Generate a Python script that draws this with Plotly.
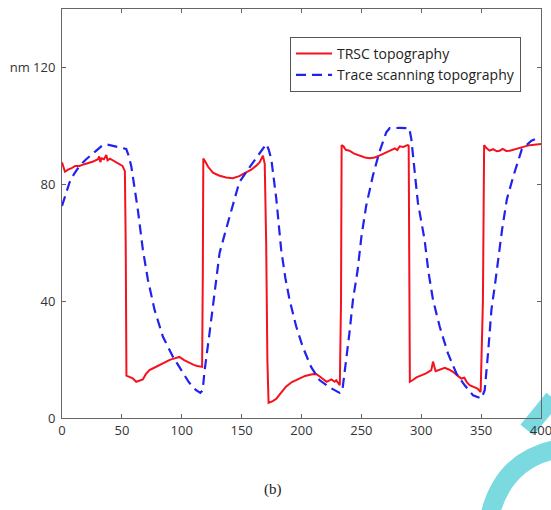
import plotly.graph_objects as go

# ---- data ----
trsc_x = [0, 1, 2.5, 5, 8, 11, 14.6, 18, 22, 26, 28, 30, 31, 32, 33, 35, 37, 38, 40, 42, 45.5, 48, 50.5, 52.5,
          53.2, 53.8, 56.4, 59, 62, 65, 67.5, 70, 73, 77, 81.5, 86, 90, 94, 98, 102, 106.5, 110, 113, 117,
          117.6, 118, 120, 122, 126, 131, 137, 142.6, 148, 154, 158, 162, 165, 167.8, 169.3, 170.5, 171.5,
          172.5, 176, 179, 183, 187, 192, 198, 203, 209, 212, 215, 218, 221, 223, 225, 227.6, 229, 232,
          233, 233.5, 235, 237, 240, 244, 248.5, 253, 257, 261, 265, 269, 273.6, 278, 280, 282, 285, 288.6,
          289.5, 290, 290.5, 293, 296, 300, 304, 308.4, 309.8, 312, 315, 319.6, 323, 326.5, 330, 333.5, 336,
          338, 340.4, 344, 347, 349.6, 351.5, 352.5, 354, 357, 360, 363, 365.5, 368, 371, 374, 378, 382, 386,
          390.6, 395, 400]
trsc_y = [87.5, 86, 84.3, 85, 85.5, 86.3, 86.3, 86.8, 87.2, 87.8, 88.2, 88.6, 89.5, 87.6, 88.9, 88.6, 90, 88.2,
          88.8, 88.3, 87.4, 87, 86.3, 84.5,
          60, 14.5, 14.1, 13.6, 12.4, 12.8, 13.2, 15, 16.4, 17.2, 18.1, 19, 19.9, 20.4, 20.9, 19.8, 18.8, 18.2,
          17.8, 17.5,
          50, 88.8, 87.5, 86, 84, 83, 82.3, 82.1, 82.8, 84, 85, 86.3, 87.5, 89.8, 87, 60, 20,
          5.2, 5.8, 6.6, 8.6, 10.7, 12.3, 13.6, 14.4, 15, 15.1, 14.3, 13.4, 12.4, 12.8, 13.2, 12.4, 12.9, 11.2,
          40, 93.4, 93, 91.8, 91.5, 90.5, 89.8, 89.2, 88.9, 89.2, 89.8, 90.6, 91.5, 92.3, 91.7, 93, 92.8, 93.4,
          93.2, 50, 12.4, 13, 13.9, 14.6, 15.3, 16.4, 19.3, 16, 16.5, 17.2, 16.6, 15.8, 14.6, 13.5, 13.8,
          12.3, 11.2, 10.6, 10.1, 8.9, 40, 93.4, 92.6, 91.5, 92, 91.3, 91.5, 92.1, 91.4, 91.5, 92, 92.6, 92.9,
          93.4, 93.6, 93.8]

trace_x = [0, 3, 6.3, 10, 14.6, 20, 25.7, 30, 34, 38, 43.9, 48, 53.6, 55.5, 57.8, 60.5, 63.3, 67.5, 71.7, 77.3,
           84.2, 92.6, 100.9, 106, 112, 115.5, 117.5, 119, 123, 127.4, 131.6, 137, 142.7, 148, 156.6, 165, 168,
           170.6, 172.5, 174.8, 179, 183, 186.5, 190, 195.6, 201, 208, 215, 223.5, 231.8, 234, 237.4, 240, 243,
           246.8, 250, 254, 259.6, 265, 270.8, 273.6, 282, 290, 291.7, 294.5, 297.2, 302.8, 306, 309.8, 315.4,
           322.3, 329.3, 336.3, 343.2, 350.2, 353, 356, 358.6, 362, 367.5, 371.5, 377, 384, 392, 399]
trace_y = [72.6, 76.5, 80.6, 83.5, 86.3, 88.5, 90.4, 92, 93.4, 93.6, 93, 92.6, 92.1, 90, 86.3, 79, 71.4, 57.7,
           47.4, 37, 27.9, 21, 15.3, 12.2, 9.5, 8.6, 9.5, 16, 28.4, 42.2, 56.5, 64.6, 72.6, 80.6, 85.8, 90.4,
           92.2, 93.8, 92, 88.6, 74.9, 57.7, 48, 40.5, 31.3, 24.4, 17.5, 13, 10.5, 8.6, 9, 19.8, 29, 40.5, 50.4,
           62, 72.6, 82.9, 91, 97.8, 99.2, 99.3, 99.2, 95.5, 85.2, 73.7, 61, 50, 40.5, 31.3, 22.1, 15.3, 11.2,
           7.8, 6.7, 9.5, 23.3, 37, 47, 64.5, 74.9, 82.9, 92, 94.9, 96.1]

x_ticks = [0, 50, 100, 150, 200, 250, 300, 350, 400]
y_ticks = [0, 40, 80, 120]
y_ticktext = ["0", "40", "80", "nm 120"]

W, H = 551, 510
ML, MR, MT, MB = 62, 10, 9, 92

fig = go.Figure()
fig.add_trace(go.Scatter(x=trsc_x, y=trsc_y, mode="lines", name="TRSC topography",
                         line=dict(color="#f5121f", width=2)))
fig.add_trace(go.Scatter(x=trace_x, y=trace_y, mode="lines", name="Trace scanning topography",
                         line=dict(color="#2222ee", width=2.2, dash="10px,6px")))

axis_common = dict(showgrid=False, zeroline=False, showline=True, linecolor="#666666", linewidth=1,
                   mirror="ticks", ticks="inside", ticklen=4, tickcolor="#666666",
                   ticklabeloverflow="allow", automargin=False,
                   tickfont=dict(family="Open Sans", size=13, color="#333333"))
fig.update_xaxes(range=[0, 400], tickvals=x_ticks, **axis_common)
fig.update_yaxes(range=[0, 140], tickvals=y_ticks, ticktext=y_ticktext, ticklabelstandoff=3, **axis_common)


def px2paper(px, py):
    return ((px - ML) / (W - ML - MR), (H - MB - py) / (H - MT - MB))


# decorative cyan watermark (lower right corner), drawn beneath everything
a = px2paper(490, 515); b = px2paper(503, 462); c = px2paper(553, 450)
d = px2paper(527, 430); e = px2paper(553, 398)
fig.add_shape(type="path", xref="paper", yref="paper", layer="below",
              path=f"M {a[0]},{a[1]} Q {b[0]},{b[1]} {c[0]},{c[1]}",
              line=dict(color="#7adadf", width=19))
fig.add_shape(type="path", xref="paper", yref="paper", layer="below",
              path=f"M {d[0]},{d[1]} L {e[0]},{e[1]}",
              line=dict(color="#7adadf", width=17))

cap = px2paper(273, 490)
fig.add_annotation(x=cap[0], y=cap[1], xref="paper", yref="paper", text="(b)", showarrow=False,
                   xanchor="center", yanchor="middle",
                   font=dict(family="Liberation Serif", size=15, color="#222222"))

lg = px2paper(290, 37)
fig.update_layout(
    width=W, height=H,
    margin=dict(l=ML, r=MR, t=MT, b=MB, autoexpand=False),
    paper_bgcolor="white", plot_bgcolor="rgba(0,0,0,0)",
    legend=dict(x=lg[0], y=lg[1], xanchor="left", yanchor="top",
                bordercolor="#555555", borderwidth=1, bgcolor="white",
                font=dict(family="Open Sans", size=14, color="#222222"),
                tracegroupgap=0, itemwidth=36),
    showlegend=True,
)

fig.write_html("out.html")
